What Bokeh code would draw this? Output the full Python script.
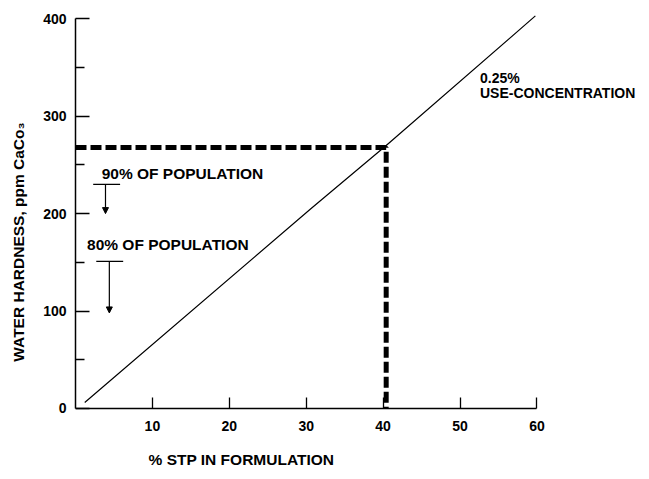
from bokeh.plotting import figure
from bokeh.models import Range1d, FixedTicker, Label, Arrow, NormalHead
from bokeh.embed import file_html
from bokeh.resources import INLINE

# ---- data ----
stp_pct = [1.2, 30.6, 40.4, 59.8]          # % STP in formulation
hardness = [6, 205, 270, 403]              # water hardness, ppm CaCO3 (0.25% use-concentration)

dash_x = [0, 40.4, 40.4]                   # 90% of population cut-off
dash_y = [268, 268, 0]

x_ticks = [10, 20, 30, 40, 50, 60]
y_ticks = [0, 100, 200, 300, 400]
y_minor = [50, 150, 250, 350]

pop_labels = ["90% OF POPULATION", "80% OF POPULATION"]
pop_label_x = [3.4, 1.5]
pop_label_y = [241, 168]
pop_bar_x0 = [2.3, 2.7]
pop_bar_x1 = [5.8, 6.2]
pop_bar_y = [230, 151]
pop_arrow_x = [3.9, 4.4]
pop_arrow_end = [200, 98]

conc_lines = ["0.25%", "USE-CONCENTRATION"]
conc_x = 52.6
conc_y = [339, 324]

x_title = "% STP IN FORMULATION"
y_title = "WATER HARDNESS, ppm CaCo\u2083"

FONT = "Liberation Sans"

p = figure(width=641, height=471, output_backend="svg", toolbar_location=None,
           x_range=Range1d(0, 73.6), y_range=Range1d(-64.8, 406.5),
           min_border_left=75, min_border_right=0, min_border_top=12, min_border_bottom=0)
p.background_fill_color = "white"
p.border_fill_color = "white"
p.outline_line_color = None
p.grid.visible = False

# axes
for ax in (p.xaxis[0], p.yaxis[0]):
    ax.axis_line_color = "black"
    ax.axis_line_width = 1.5
    ax.major_tick_line_color = "black"
    ax.major_tick_line_width = 1.3
    ax.minor_tick_line_color = "black"
    ax.minor_tick_line_width = 1.3
    ax.major_tick_out = 0
    ax.minor_tick_out = 0
    ax.major_label_text_font = FONT
    ax.major_label_text_font_style = "bold"
    ax.major_label_text_font_size = "14px"
    ax.major_label_text_color = "black"
    ax.axis_label_text_font = FONT
    ax.axis_label_text_font_style = "bold"
    ax.axis_label_text_font_size = "15.5px"
    ax.axis_label_text_color = "black"

p.xaxis.fixed_location = 0
p.xaxis.ticker = FixedTicker(ticks=x_ticks)
p.xaxis.bounds = (0, 60)
p.xaxis.major_tick_in = 11
p.xaxis.minor_tick_in = 0
p.xaxis.major_label_standoff = 13

p.yaxis.ticker = FixedTicker(ticks=y_ticks, minor_ticks=y_minor)
p.yaxis.bounds = (0, 400)
p.yaxis.major_tick_in = 14
p.yaxis.minor_tick_in = 9
p.yaxis.major_label_standoff = 9
p.yaxis.axis_label = y_title
p.yaxis.axis_label_standoff = 13

# main line
p.line(stp_pct, hardness, line_color="black", line_width=1.2)

# dashed cut-off
p.line(dash_x, dash_y, line_color="black", line_width=5, line_dash="11 4", line_cap="butt")

# population markers
for i in range(len(pop_labels)):
    p.add_layout(Label(x=pop_label_x[i], y=pop_label_y[i], text=pop_labels[i],
                       text_font=FONT, text_font_style="bold", text_font_size="15.5px",
                       text_baseline="middle", text_align="left", text_color="black"))
    p.segment(x0=[pop_bar_x0[i]], y0=[pop_bar_y[i]], x1=[pop_bar_x1[i]], y1=[pop_bar_y[i]],
              line_color="black", line_width=1.2)
    p.add_layout(Arrow(x_start=pop_arrow_x[i], y_start=pop_bar_y[i],
                       x_end=pop_arrow_x[i], y_end=pop_arrow_end[i],
                       line_color="black", line_width=1.2,
                       end=NormalHead(size=6, fill_color="black", line_color="black")))

for t, yy in zip(conc_lines, conc_y):
    p.add_layout(Label(x=conc_x, y=yy, text=t, text_font=FONT, text_font_style="bold",
                       text_font_size="14px", text_baseline="middle", text_align="left",
                       text_color="black"))

# x axis title, left-aligned as in the reference
p.add_layout(Label(x=9.5, y=-52, text=x_title, text_font=FONT, text_font_style="bold",
                   text_font_size="15.5px", text_baseline="middle", text_align="left",
                   text_color="black"))

open("out.html", "w").write(file_html(p, INLINE))
